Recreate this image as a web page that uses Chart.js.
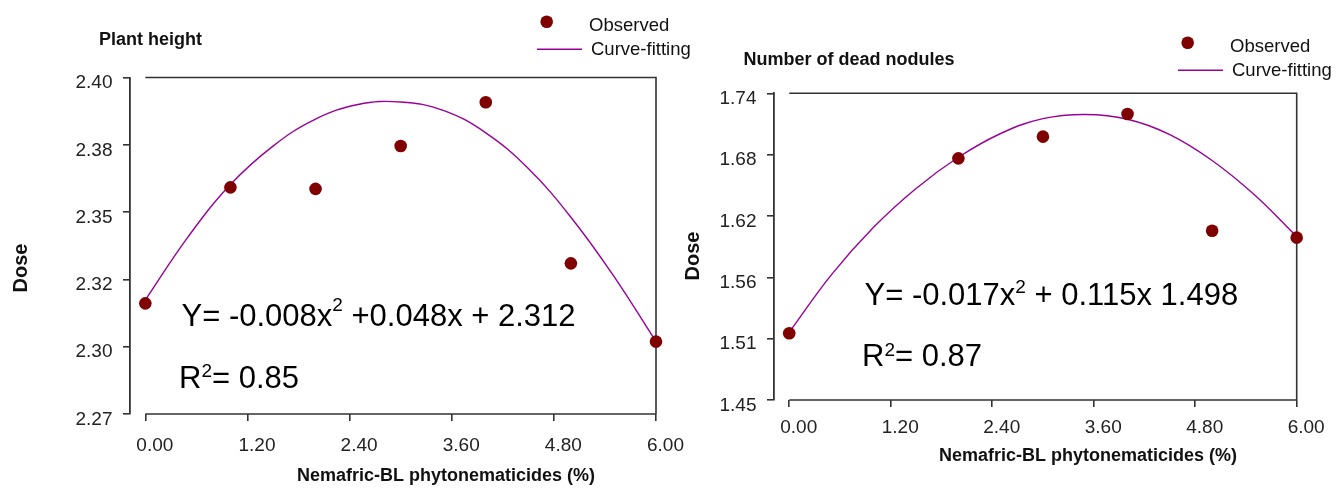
<!DOCTYPE html>
<html>
<head>
<meta charset="utf-8">
<script src="https://cdn.jsdelivr.net/npm/chart.js@4.4.1/dist/chart.umd.min.js"></script>
<style>
  html, body { margin: 0; padding: 0; background: #fff; }
  body { width: 1344px; height: 488px; position: relative; overflow: hidden; }
  canvas { position: absolute; top: 0; }
  #heightChart { left: 0; }
  #nodulesChart { left: 672px; }
</style>
</head>
<body>
<canvas id="heightChart" width="700" height="488"></canvas>
<canvas id="nodulesChart" width="672" height="488"></canvas>
<script>
// ---- data ----
const xTickValues = [0, 1.2, 2.4, 3.6, 4.8, 6.0];
const xTickLabels = ['0.00', '1.20', '2.40', '3.60', '4.80', '6.00'];

// Plant height
const heightDoses = [0, 1, 2, 3, 4, 5, 6];
const heightObserved = [2.3154, 2.3609, 2.3603, 2.3771, 2.3943, 2.3311, 2.3004];
const fitDoses = [0, 0.5, 1, 1.5, 2, 2.5, 3, 3.5, 4, 4.5, 5, 5.5, 6];
const heightFitted = [2.3167, 2.3414, 2.3620, 2.3771, 2.3877, 2.3934, 2.3944, 2.3911, 2.3823, 2.3683, 2.3492, 2.3263, 2.3004];
const heightTickValues = [2.272, 2.2984, 2.3248, 2.3512, 2.3776, 2.404];
const heightTickLabels = ['2.27', '2.30', '2.32', '2.35', '2.38', '2.40'];

// Number of dead nodules
const noduleDoses = [0, 2, 3, 4, 5, 6];
const noduleObserved = [1.5111, 1.6765, 1.6970, 1.7184, 1.6081, 1.6015];
const noduleFitted = [1.5120, 1.5665, 1.6115, 1.6480, 1.6775, 1.7000, 1.7140, 1.7180, 1.7135, 1.6990, 1.6745, 1.6420, 1.6024];
const noduleTickValues = [1.448, 1.506, 1.564, 1.622, 1.680, 1.738];
const noduleTickLabels = ['1.45', '1.51', '1.56', '1.62', '1.68', '1.74'];

// ---- styles ----
const FONT = '"Liberation Sans", Arial, Helvetica, sans-serif';
const POINT_COLOR = '#800000';
const CURVE_COLOR = '#990099';
const AXIS_COLOR = '#333333';

function pairs(xs, ys) { return xs.map((x, i) => ({ x: x, y: ys[i] })); }

function setFont(ctx, size, bold) {
  ctx.font = (bold ? 'bold ' : '') + size + 'px ' + FONT;
}

// Draws text runs one after the other (used for superscripts)
function drawRuns(ctx, x, y, runs) {
  let cx = x;
  runs.forEach(r => {
    setFont(ctx, r.size, false);
    ctx.fillText(r.t, cx, y - (r.rise || 0));
    cx += ctx.measureText(r.t).width;
  });
}

// Frame: bottom line, top line and right side spanning the dose range
const framePlugin = {
  id: 'frame',
  beforeDatasetsDraw(chart) {
    const { ctx, chartArea: { top, bottom }, scales: { x } } = chart;
    const x0 = x.getPixelForValue(xTickValues[0]);
    const x1 = x.getPixelForValue(xTickValues[xTickValues.length - 1]);
    ctx.save();
    ctx.strokeStyle = AXIS_COLOR;
    ctx.lineWidth = 1.6;
    ctx.beginPath();
    ctx.moveTo(x0, bottom); ctx.lineTo(x1, bottom);
    ctx.moveTo(x0, top); ctx.lineTo(x1, top); ctx.lineTo(x1, bottom);
    ctx.stroke();
    ctx.restore();
  }
};

// Titles, legend and regression equation
const decorPlugin = {
  id: 'decor',
  afterDraw(chart, args, o) {
    const ctx = chart.ctx;
    ctx.save();
    ctx.textBaseline = 'alphabetic';
    ctx.textAlign = 'left';

    // chart title
    setFont(ctx, 18, true);
    ctx.fillStyle = '#111';
    ctx.fillText(o.title, o.titleX, o.titleY);

    // x axis title
    ctx.fillText('Nemafric-BL phytonematicides (%)', o.xTitleX, o.xTitleY);

    // y axis title
    ctx.save();
    setFont(ctx, 20, true);
    ctx.translate(o.yTitleX, o.yTitleY);
    ctx.rotate(-Math.PI / 2);
    ctx.textAlign = 'center';
    ctx.fillText('Dose', 0, 0);
    ctx.restore();

    // legend
    const L = o.legend;
    ctx.fillStyle = POINT_COLOR;
    ctx.beginPath();
    ctx.arc(L.x + 9.7, L.y, 6.3, 0, Math.PI * 2);
    ctx.fill();
    ctx.strokeStyle = CURVE_COLOR;
    ctx.lineWidth = 1.5;
    ctx.beginPath();
    ctx.moveTo(L.x, L.y + 27.6);
    ctx.lineTo(L.x + 45, L.y + 27.6);
    ctx.stroke();
    ctx.fillStyle = '#111';
    setFont(ctx, 18.5, false);
    ctx.fillText('Observed', L.x + 52, L.y + 8.8);
    ctx.fillText('Curve-fitting', L.x + 54, L.y + 32.8);

    // equation and R²
    ctx.fillStyle = '#000';
    const E = o.equation;
    drawRuns(ctx, E.x, E.y1, [
      { t: E.head, size: 31 },
      { t: '2', size: 19, rise: E.rise1 },
      { t: E.tail, size: 31 }
    ]);
    drawRuns(ctx, E.x - 2.4, E.y2, [
      { t: 'R', size: 31 },
      { t: '2', size: 19, rise: 10.5 },
      { t: '= ' + E.r2, size: 31 }
    ]);
    ctx.restore();
  }
};

function makeChart(canvasId, cfg) {
  return new Chart(document.getElementById(canvasId), {
    type: 'scatter',
    data: {
      datasets: [
        {
          label: 'Observed',
          data: pairs(cfg.doses, cfg.observed),
          backgroundColor: POINT_COLOR,
          borderWidth: 0,
          pointRadius: 6.3,
          pointHoverRadius: 6.3,
          clip: false
        },
        {
          label: 'Curve-fitting',
          data: pairs(fitDoses, cfg.fitted),
          showLine: true,
          borderColor: CURVE_COLOR,
          borderWidth: 1.4,
          pointRadius: 0,
          tension: 0.4,
          fill: false,
          clip: false
        }
      ]
    },
    options: {
      responsive: false,
      animation: false,
      devicePixelRatio: 1,
      layout: { padding: { left: 0, top: cfg.top, right: cfg.right, bottom: 0 } },
      plugins: {
        legend: { display: false },
        tooltip: { enabled: false },
        title: { display: false },
        decor: cfg.decor
      },
      scales: {
        x: {
          type: 'linear',
          min: -0.18,
          max: 6,
          border: { display: false },
          grid: { drawOnChartArea: false, drawTicks: true, tickLength: 7, color: AXIS_COLOR, lineWidth: 1.6 },
          ticks: {
            autoSkip: false, maxRotation: 0, padding: cfg.xPad, labelOffset: 9.5,
            color: '#222', font: { family: FONT, size: 19 },
            callback: (v, i) => xTickLabels[i]
          },
          afterBuildTicks: s => { s.ticks = xTickValues.map(v => ({ value: v })); },
          afterFit: s => { s.height = cfg.xHeight; s.paddingLeft = 0; s.paddingRight = 0; }
        },
        y: {
          type: 'linear',
          min: cfg.yTicks[0],
          max: cfg.yTicks[cfg.yTicks.length - 1],
          border: { display: true, color: AXIS_COLOR, width: 1.8 },
          grid: { drawOnChartArea: false, drawTicks: true, tickLength: 7, color: AXIS_COLOR, lineWidth: 1.6 },
          ticks: {
            autoSkip: false, padding: 10.5, labelOffset: 5.5,
            color: '#222', font: { family: FONT, size: 19 },
            callback: (v, i) => cfg.yLabels[i]
          },
          afterBuildTicks: s => { s.ticks = cfg.yTicks.map(v => ({ value: v })); },
          afterFit: s => { s.width = cfg.yWidth; s.paddingTop = 0; s.paddingBottom = 0; }
        }
      }
    },
    plugins: [framePlugin, decorPlugin]
  });
}

makeChart('heightChart', {
  doses: heightDoses, observed: heightObserved, fitted: heightFitted,
  yTicks: heightTickValues, yLabels: heightTickLabels,
  top: 77.5, right: 44, xHeight: 74, yWidth: 130, xPad: 13.5,
  decor: {
    title: 'Plant height', titleX: 99, titleY: 44.5,
    xTitleX: 297, xTitleY: 481,
    yTitleX: 27, yTitleY: 268,
    legend: { x: 537, y: 21.7 },
    equation: { x: 181.5, y1: 326, y2: 387.7, rise1: 15, head: 'Y= -0.008x', tail: ' +0.048x + 2.312', r2: '0.85' }
  }
});

makeChart('nodulesChart', {
  doses: noduleDoses, observed: noduleObserved, fitted: noduleFitted,
  yTicks: noduleTickValues, yLabels: noduleTickLabels,
  top: 93.3, right: 47.3, xHeight: 88, yWidth: 102, xPad: 9.5,
  decor: {
    title: 'Number of dead nodules', titleX: 71.5, titleY: 64.5,
    xTitleX: 267, xTitleY: 461,
    yTitleX: 27, yTitleY: 256,
    legend: { x: 506, y: 42.7 },
    equation: { x: 192.5, y1: 305, y2: 366, rise1: 12, head: 'Y= -0.017x', tail: ' + 0.115x 1.498', r2: '0.87' }
  }
});
</script>
</body>
</html>
